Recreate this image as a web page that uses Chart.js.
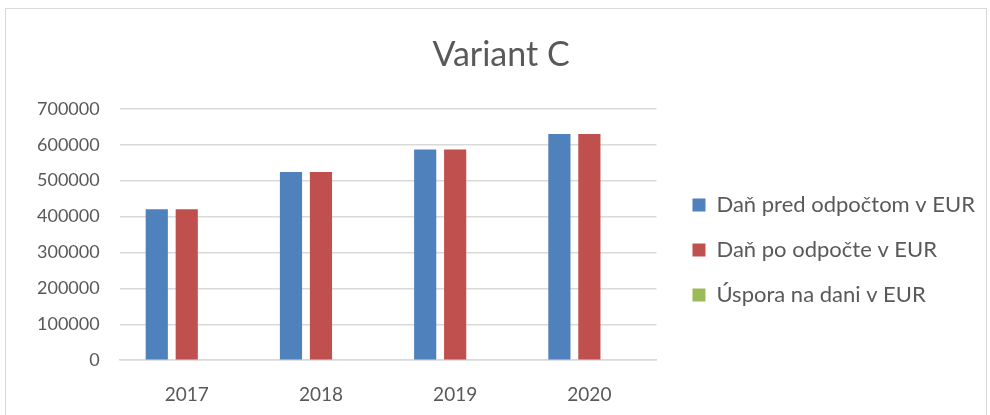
<!DOCTYPE html>
<html>
<head>
<meta charset="utf-8">
<script src="https://cdn.jsdelivr.net/npm/chart.js@4"></script>
<style>
  html, body { margin: 0; padding: 0; background: #fff; }
  #box {
    position: absolute; left: 5px; top: 8px;
    width: 982px; height: 420px;
    border: 1px solid #d9d9d9; box-sizing: border-box;
  }
  #chart { display: block; }
</style>
</head>
<body>
<div id="box"><canvas id="chart" width="980" height="418"></canvas></div>
<script>
// Variant C - tax comparison
const years = ['2017', '2018', '2019', '2020'];
const taxBefore = [420000, 524000, 587000, 630000];
const taxAfter = [420000, 524000, 587000, 630000];
const savings = [0, 0, 0, 0];
const yTicks = [0, 100000, 200000, 300000, 400000, 500000, 600000, 700000];

const font = 'Lato, "Open Sans", sans-serif';
const grey = '#595959';

window.addEventListener('DOMContentLoaded', () => {
  new Chart(document.getElementById('chart'), {
    type: 'bar',
    data: {
      labels: years,
      datasets: [
        { label: 'Daň pred odpočtom v EUR', data: taxBefore, backgroundColor: '#4f81bd' },
        { label: 'Daň po odpočte v EUR', data: taxAfter, backgroundColor: '#c0504d' },
        { label: 'Úspora na dani v EUR', data: savings, backgroundColor: '#9bbb59' }
      ]
    },
    options: {
      responsive: false,
      animation: false,
      categoryPercentage: 0.67,
      barPercentage: 0.74,
      layout: { padding: { left: 11, right: 1, top: 0, bottom: 6 } },
      plugins: {
        title: {
          display: true,
          text: 'Variant C',
          color: grey,
          font: { family: font, size: 34, weight: 'normal' },
          padding: { top: 26, bottom: 33 }
        },
        legend: {
          position: 'right',
          maxWidth: 400,
          // blank title just pushes the items down a bit
          title: { display: true, text: ' ', font: { size: 10 }, padding: 29 },
          labels: {
            color: grey,
            font: { family: font, size: 22 },
            boxWidth: 13,
            boxHeight: 13,
            padding: 23
          }
        },
        tooltip: { enabled: false }
      },
      scales: {
        x: {
          grid: { display: false },
          border: { color: '#d9d9d9', width: 1.5 },
          ticks: { color: grey, font: { family: font, size: 19 }, padding: 15 }
        },
        y: {
          min: 0,
          max: 700000,
          afterBuildTicks: axis => { axis.ticks = yTicks.map(v => ({ value: v })); },
          grid: { color: '#d9d9d9', lineWidth: 1.5, drawTicks: false },
          border: { display: false },
          ticks: { color: grey, font: { family: font, size: 18 }, padding: 20, callback: v => String(v) }
        },
        // empty spacer between plot and legend
        gap: {
          position: 'right',
          display: true,
          grid: { display: false },
          border: { display: false },
          ticks: { display: false },
          afterFit: s => { s.width = 13; }
        }
      }
    }
  });
});
</script>
</body>
</html>
